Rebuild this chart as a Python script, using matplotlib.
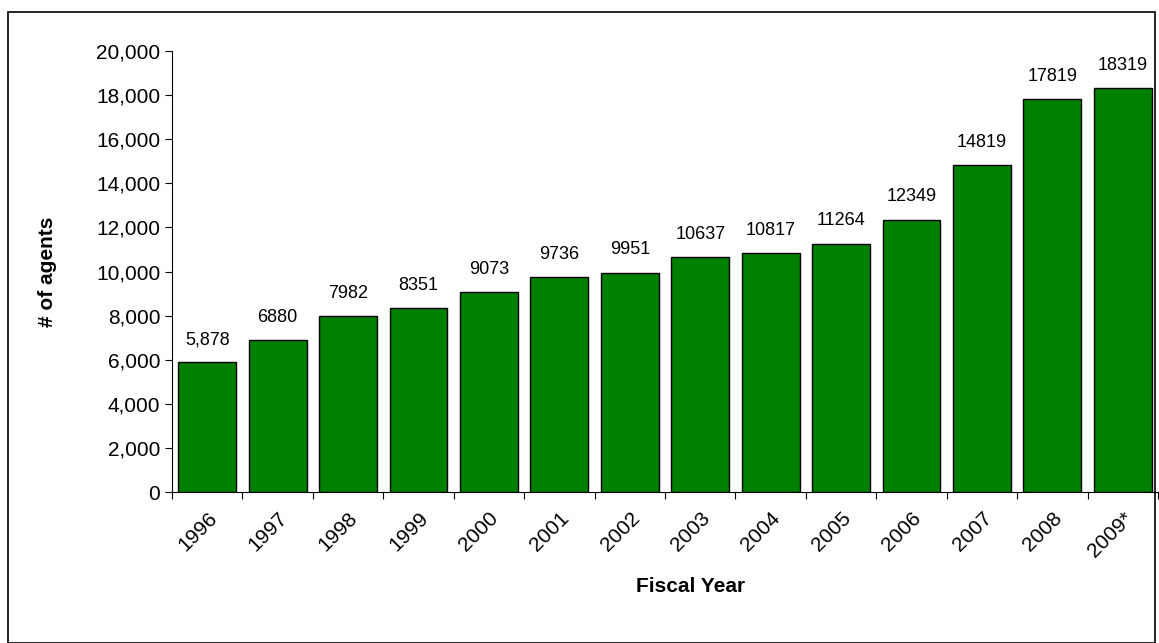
import matplotlib.pyplot as plt
import matplotlib.patches as mpatches

years = ["1996", "1997", "1998", "1999", "2000", "2001", "2002", "2003",
         "2004", "2005", "2006", "2007", "2008", "2009*"]
agents = [5878, 6880, 7982, 8351, 9073, 9736, 9951, 10637, 10817, 11264,
          12349, 14819, 17819, 18319]
labels = ["5,878", "6880", "7982", "8351", "9073", "9736", "9951", "10637",
          "10817", "11264", "12349", "14819", "17819", "18319"]

plt.rcParams["font.family"] = ["Liberation Sans", "DejaVu Sans"]
fig = plt.figure(figsize=(11.59, 6.43), dpi=100)
fig.patches.append(mpatches.Rectangle((8 / 1159, 0), 1147 / 1159, 631 / 643, transform=fig.transFigure,
                                      fill=False, edgecolor="black", lw=1.2))
ax = fig.add_axes([172 / 1159, 151 / 643, 986 / 1159, 441 / 643])
x = range(len(years))
ax.bar(x, agents, width=0.82, color="#008000", edgecolor="black", lw=1)
for i, (v, lab) in enumerate(zip(agents, labels)):
    ax.text(i, v + 650, lab, ha="center", va="bottom", fontsize=13)

ax.set_xlim(-0.5, len(years) - 0.5)
ax.set_ylim(0, 20000)
ax.set_yticks(range(0, 20001, 2000))
ax.set_yticklabels([f"{t:,}" for t in range(0, 20001, 2000)], fontsize=15)
ax.set_xticks([i - 0.5 for i in range(len(years) + 1)], minor=False)
ax.set_xticklabels([])
ax.set_xticks(list(x), minor=True)
ax.set_xticklabels(years, minor=True, rotation=45, ha="right", rotation_mode="anchor", fontsize=15)
ax.tick_params(axis="x", which="minor", length=0, pad=12)
ax.tick_params(axis="x", which="major", length=5, direction="out")
ax.tick_params(axis="y", length=5, direction="out")
for s in ["top", "right"]:
    ax.spines[s].set_visible(False)
ax.set_ylabel("# of agents", fontsize=15, fontweight="bold")
ax.yaxis.set_label_coords(-0.117, 0.5)
ax.set_xlabel("Fiscal Year", fontsize=15, fontweight="bold")
ax.xaxis.set_label_coords(0.526, -0.193)

plt.savefig("out.png", dpi=100)
